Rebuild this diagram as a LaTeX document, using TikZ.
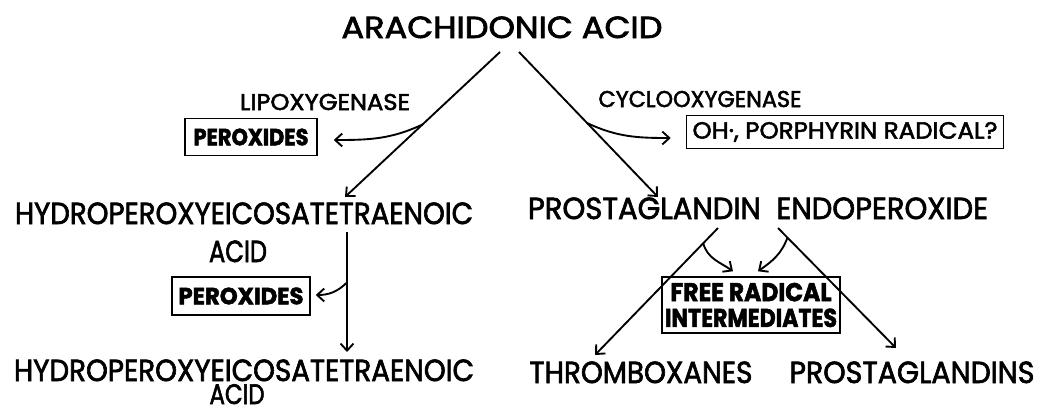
\documentclass[tikz,border=0pt]{standalone}
\usepackage{fontspec}
\setmainfont[FakeBold=2.2]{Poppins}
\usepackage{graphicx}
\usetikzlibrary{positioning,arrows.meta,calc}

% one pixel of the reference
\newdimen\pxu \pxu=0.03cm
\newcommand{\fitw}[2]{\resizebox{#1\pxu}{\height}{#2}}

\begin{document}
\begin{tikzpicture}[x=0.03cm,y=-0.03cm,
  lbl/.style={inner sep=0pt,anchor=base,font=\fontsize{26}{30}\selectfont},
  enz/.style={inner sep=0pt,anchor=base,font=\fontsize{19.5}{22}\selectfont},
  prodbox/.style={draw,line width=1.3pt,inner sep=0pt,align=center,font=\bfseries\fontsize{20}{23}\selectfont},
  arr/.style={line width=1.6pt,-{Straight Barb[length=6pt,width=11pt]}}]
\fill[white] (0,0) rectangle (1053,415);
\useasboundingbox (0,0) rectangle (1053,415);

% substances
\node[lbl] (aa) at (502,38) {\fitw{321}{ARACHIDONIC ACID}};
\node[lbl] (hpete) at (244,224) {\fitw{458}{HYDROPEROXYEICOSATETRAENOIC}};
\node[lbl] (hpeteacid) at (238,262) {\fitw{58}{ACID}};
\node[lbl] (hpete2) at (244,381) {\fitw{460}{HYDROPEROXYEICOSATETRAENOIC}};
\node[lbl,font=\fontsize{24}{28}\selectfont] (hpete2acid) at (237,404) {\fitw{55}{ACID}};
\node[lbl] (pge) at (758,219) {\fitw{460}{PROSTAGLANDIN\ \ ENDOPEROXIDE}};
\node[lbl] (thx) at (641,383) {\fitw{223}{THROMBOXANES}};
\node[lbl] (pgs) at (912,383) {\fitw{245}{PROSTAGLANDINS}};

% enzymes
\node[enz] (lipo) at (325,110) {\fitw{170}{LIPOXYGENASE}};
\node[enz] (cyclo) at (700,107) {\fitw{203}{CYCLOOXYGENASE}};

% boxed by-products
\node[prodbox,minimum width=3.96cm,minimum height=1.11cm] (perox) at (251,137) {\fitw{115}{PEROXIDES}};
\node[prodbox,minimum width=9.51cm,minimum height=0.99cm,font=\fontsize{20}{23}\selectfont] (ohrad) at (845,132) {\fitw{305}{OH·, PORPHYRIN RADICAL?}};
\node[prodbox,minimum width=4.14cm,minimum height=1.14cm] (perox2) at (241,296) {\fitw{125}{PEROXIDES}};
\node[prodbox,minimum width=5.34cm,minimum height=1.68cm,font=\bfseries\fontsize{22}{24}\selectfont] (frad) at (751,305)
  {\fitw{161}{FREE RADICAL}\\[-2pt]\fitw{172}{INTERMEDIATES}};

% main pathways
\coordinate (aaL) at (500,52);
\coordinate (aaR) at (519,52);
\draw[arr] (aaL) -- coordinate[pos=.5] (lipofork) (345,197);
\draw[arr] (aaR) -- coordinate[pos=.49] (cyclofork) (658,197);
\draw[arr] (347,232) -- coordinate[pos=.42] (hpfork) (347,352);
\draw[arr] (718,228) -- coordinate[pos=.12] (txfork) (595,355);
\draw[arr] (778,228) -- coordinate[pos=.08] (pgfork) (896,348);

% side reactions
\draw[arr] (lipofork) to[out=205,in=0] ($(perox.east)+(16,3)$);
\draw[arr] (cyclofork) to[out=-25,in=180] ($(ohrad.west)+(-15,6)$);
\draw[arr] (hpfork) to[out=225,in=0] ($(perox2.east)+(5,-1)$);
\draw[arr] (txfork) to[out=-75,in=145] ($(frad.north)+(-18,-5)$);
\draw[arr] (pgfork) to[out=250,in=35] ($(frad.north)+(7,-5)$);
\end{tikzpicture}
\end{document}
